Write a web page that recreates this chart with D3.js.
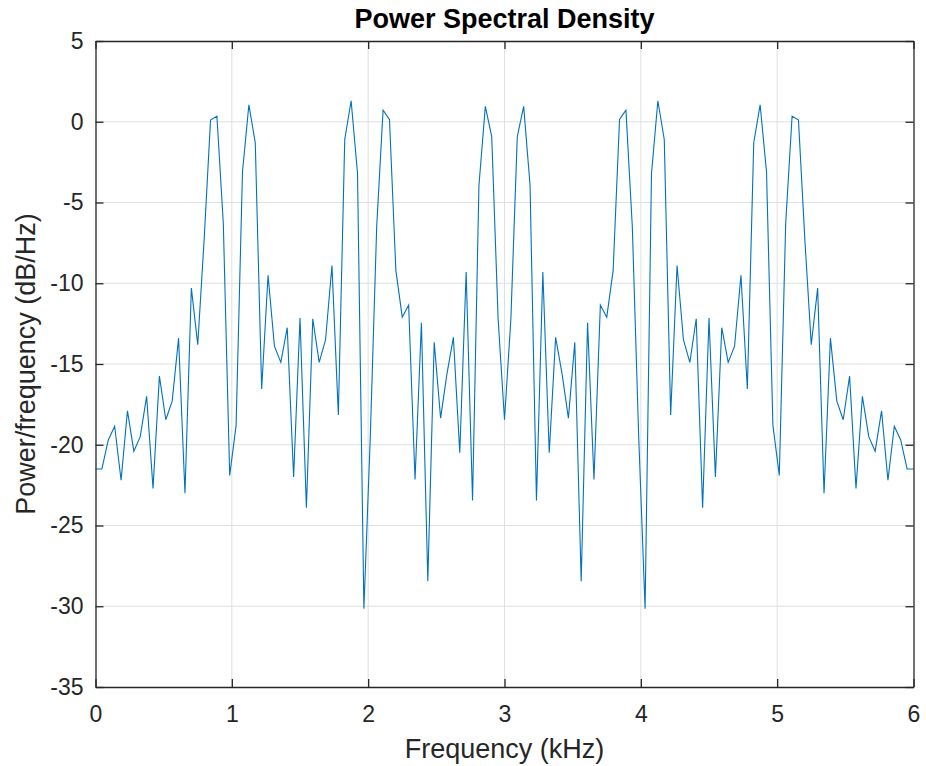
<!DOCTYPE html>
<html>
<head>
<meta charset="utf-8">
<script src="https://cdn.jsdelivr.net/npm/d3@7"></script>
<style>
  body { margin: 0; background: #fff; }
  svg text { font-family: "Liberation Sans", Arial, Helvetica, sans-serif; fill: #262626; }
</style>
</head>
<body>
<svg id="chart" width="926" height="766"></svg>
<script>
// frequency bins: 129 points, 0 .. 6 kHz (step 0.046875 kHz)
var binCount = 129;
var binStep = 0.046875;

// PSD values (dB/Hz), one per bin
var psd = [
  -21.5, -21.5, -19.7, -18.85, -22.2, -17.9, -20.4, -19.5, -17.0, -22.7,
  -15.75, -18.45, -17.3, -13.4, -23.0, -10.3, -13.8, -7.3, 0.1, 0.35,
  -6.3, -21.9, -18.8, -3.1, 1.05, -1.3, -16.55, -9.5, -13.9, -14.9,
  -12.75, -22.0, -12.15, -23.9, -12.2, -14.9, -13.5, -8.9, -18.15, -1.1,
  1.3, -3.2, -30.15, -19.5, -6.5, 0.72, 0.15, -9.2, -12.1, -11.35,
  -22.15, -12.45, -28.45, -13.65, -18.35, -15.6, -13.35, -20.5, -9.3, -23.45,
  -3.95, 0.95, -0.92, -12.2, -18.45, -12.2, -0.92, 0.95, -3.95, -23.45,
  -9.3, -20.5, -13.35, -15.6, -18.35, -13.65, -28.45, -12.45, -22.15, -11.35,
  -12.1, -9.2, 0.15, 0.72, -6.5, -19.5, -30.15, -3.2, 1.3, -1.1,
  -18.15, -8.9, -13.5, -14.9, -12.2, -23.9, -12.15, -22.0, -12.75, -14.9,
  -13.9, -9.5, -16.55, -1.3, 1.05, -3.1, -18.8, -21.9, -6.3, 0.35,
  0.1, -7.3, -13.8, -10.3, -23.0, -13.4, -17.3, -18.45, -15.75, -22.7,
  -17.0, -19.5, -20.4, -17.9, -22.2, -18.85, -19.7, -21.5, -21.5
];

var xTicks = [0, 1, 2, 3, 4, 5, 6];
var yTicks = [5, 0, -5, -10, -15, -20, -25, -30, -35];

var titleText = "Power Spectral Density";
var xLabel = "Frequency (kHz)";
var yLabel = "Power/frequency (dB/Hz)";

var freq = d3.range(binCount).map(function(i){ return i * binStep; });
var data = freq.map(function(f, i){ return {f: f, v: psd[i]}; });

var svg = d3.select("#chart");
var pLeft = 95.5, pRight = 913.5, pTop = 41, pBottom = 687;

var x = d3.scaleLinear().domain([0, 6]).range([pLeft, pRight]);
var y = d3.scaleLinear().domain([-35, 5]).range([pBottom, pTop]);

// plain hyphen for negatives, like the original
var fmt = function(d){ return String(d); };

// grid
var grid = svg.append("g").attr("stroke", "#dfdfdf").attr("stroke-width", 1);
grid.selectAll(".gx").data(xTicks.slice(1, -1)).enter().append("line")
    .attr("x1", function(d){ return x(d); })
    .attr("x2", function(d){ return x(d); })
    .attr("y1", pTop).attr("y2", pBottom);
grid.selectAll(".gy").data(yTicks.slice(1, -1)).enter().append("line")
    .attr("y1", function(d){ return y(d); })
    .attr("y2", function(d){ return y(d); })
    .attr("x1", pLeft).attr("x2", pRight);

// the PSD line
var line = d3.line()
    .x(function(d){ return x(d.f); })
    .y(function(d){ return y(d.v); });

svg.append("path")
    .datum(data)
    .attr("fill", "none")
    .attr("stroke", "#0072bd")
    .attr("stroke-width", 1.1)
    .attr("d", line);

// axes: ticks pointing inward, box on all four sides
var tickLen = 8;
var xAxisB = d3.axisBottom(x).tickValues(xTicks).tickSizeInner(-tickLen).tickSizeOuter(0)
    .tickPadding(19).tickFormat(fmt);
var xAxisT = d3.axisTop(x).tickValues(xTicks).tickSizeInner(-tickLen).tickSizeOuter(0).tickFormat("");
var yAxisL = d3.axisLeft(y).tickValues(yTicks).tickSizeInner(-tickLen).tickSizeOuter(0)
    .tickPadding(12).tickFormat(fmt);
var yAxisR = d3.axisRight(y).tickValues(yTicks).tickSizeInner(-tickLen).tickSizeOuter(0).tickFormat("");

function styleAxis(g){
  g.select(".domain").attr("stroke", "#262626").attr("stroke-width", 1.3);
  g.selectAll(".tick line").attr("stroke", "#262626").attr("stroke-width", 1.3);
  g.selectAll(".tick text").attr("font-size", 23).attr("fill", "#262626")
    .style("font-family", "'Liberation Sans', Arial, Helvetica, sans-serif");
}

svg.append("g").attr("transform", "translate(0," + pBottom + ")").call(xAxisB).call(styleAxis);
svg.append("g").attr("transform", "translate(0," + pTop + ")").call(xAxisT).call(styleAxis);
svg.append("g").attr("transform", "translate(" + pLeft + ",0)").call(yAxisL).call(styleAxis);
svg.append("g").attr("transform", "translate(" + pRight + ",0)").call(yAxisR).call(styleAxis);

// title and labels
svg.append("text")
    .attr("x", (pLeft + pRight) / 2).attr("y", 28)
    .attr("text-anchor", "middle")
    .attr("font-size", 27).attr("font-weight", "bold")
    .style("fill", "#000")
    .text(titleText);

svg.append("text")
    .attr("x", (pLeft + pRight) / 2).attr("y", 758)
    .attr("text-anchor", "middle")
    .attr("font-size", 27)
    .text(xLabel);

svg.append("text")
    .attr("transform", "translate(35," + ((pTop + pBottom) / 2) + ") rotate(-90)")
    .attr("text-anchor", "middle")
    .attr("font-size", 27)
    .text(yLabel);
</script>
</body>
</html>
